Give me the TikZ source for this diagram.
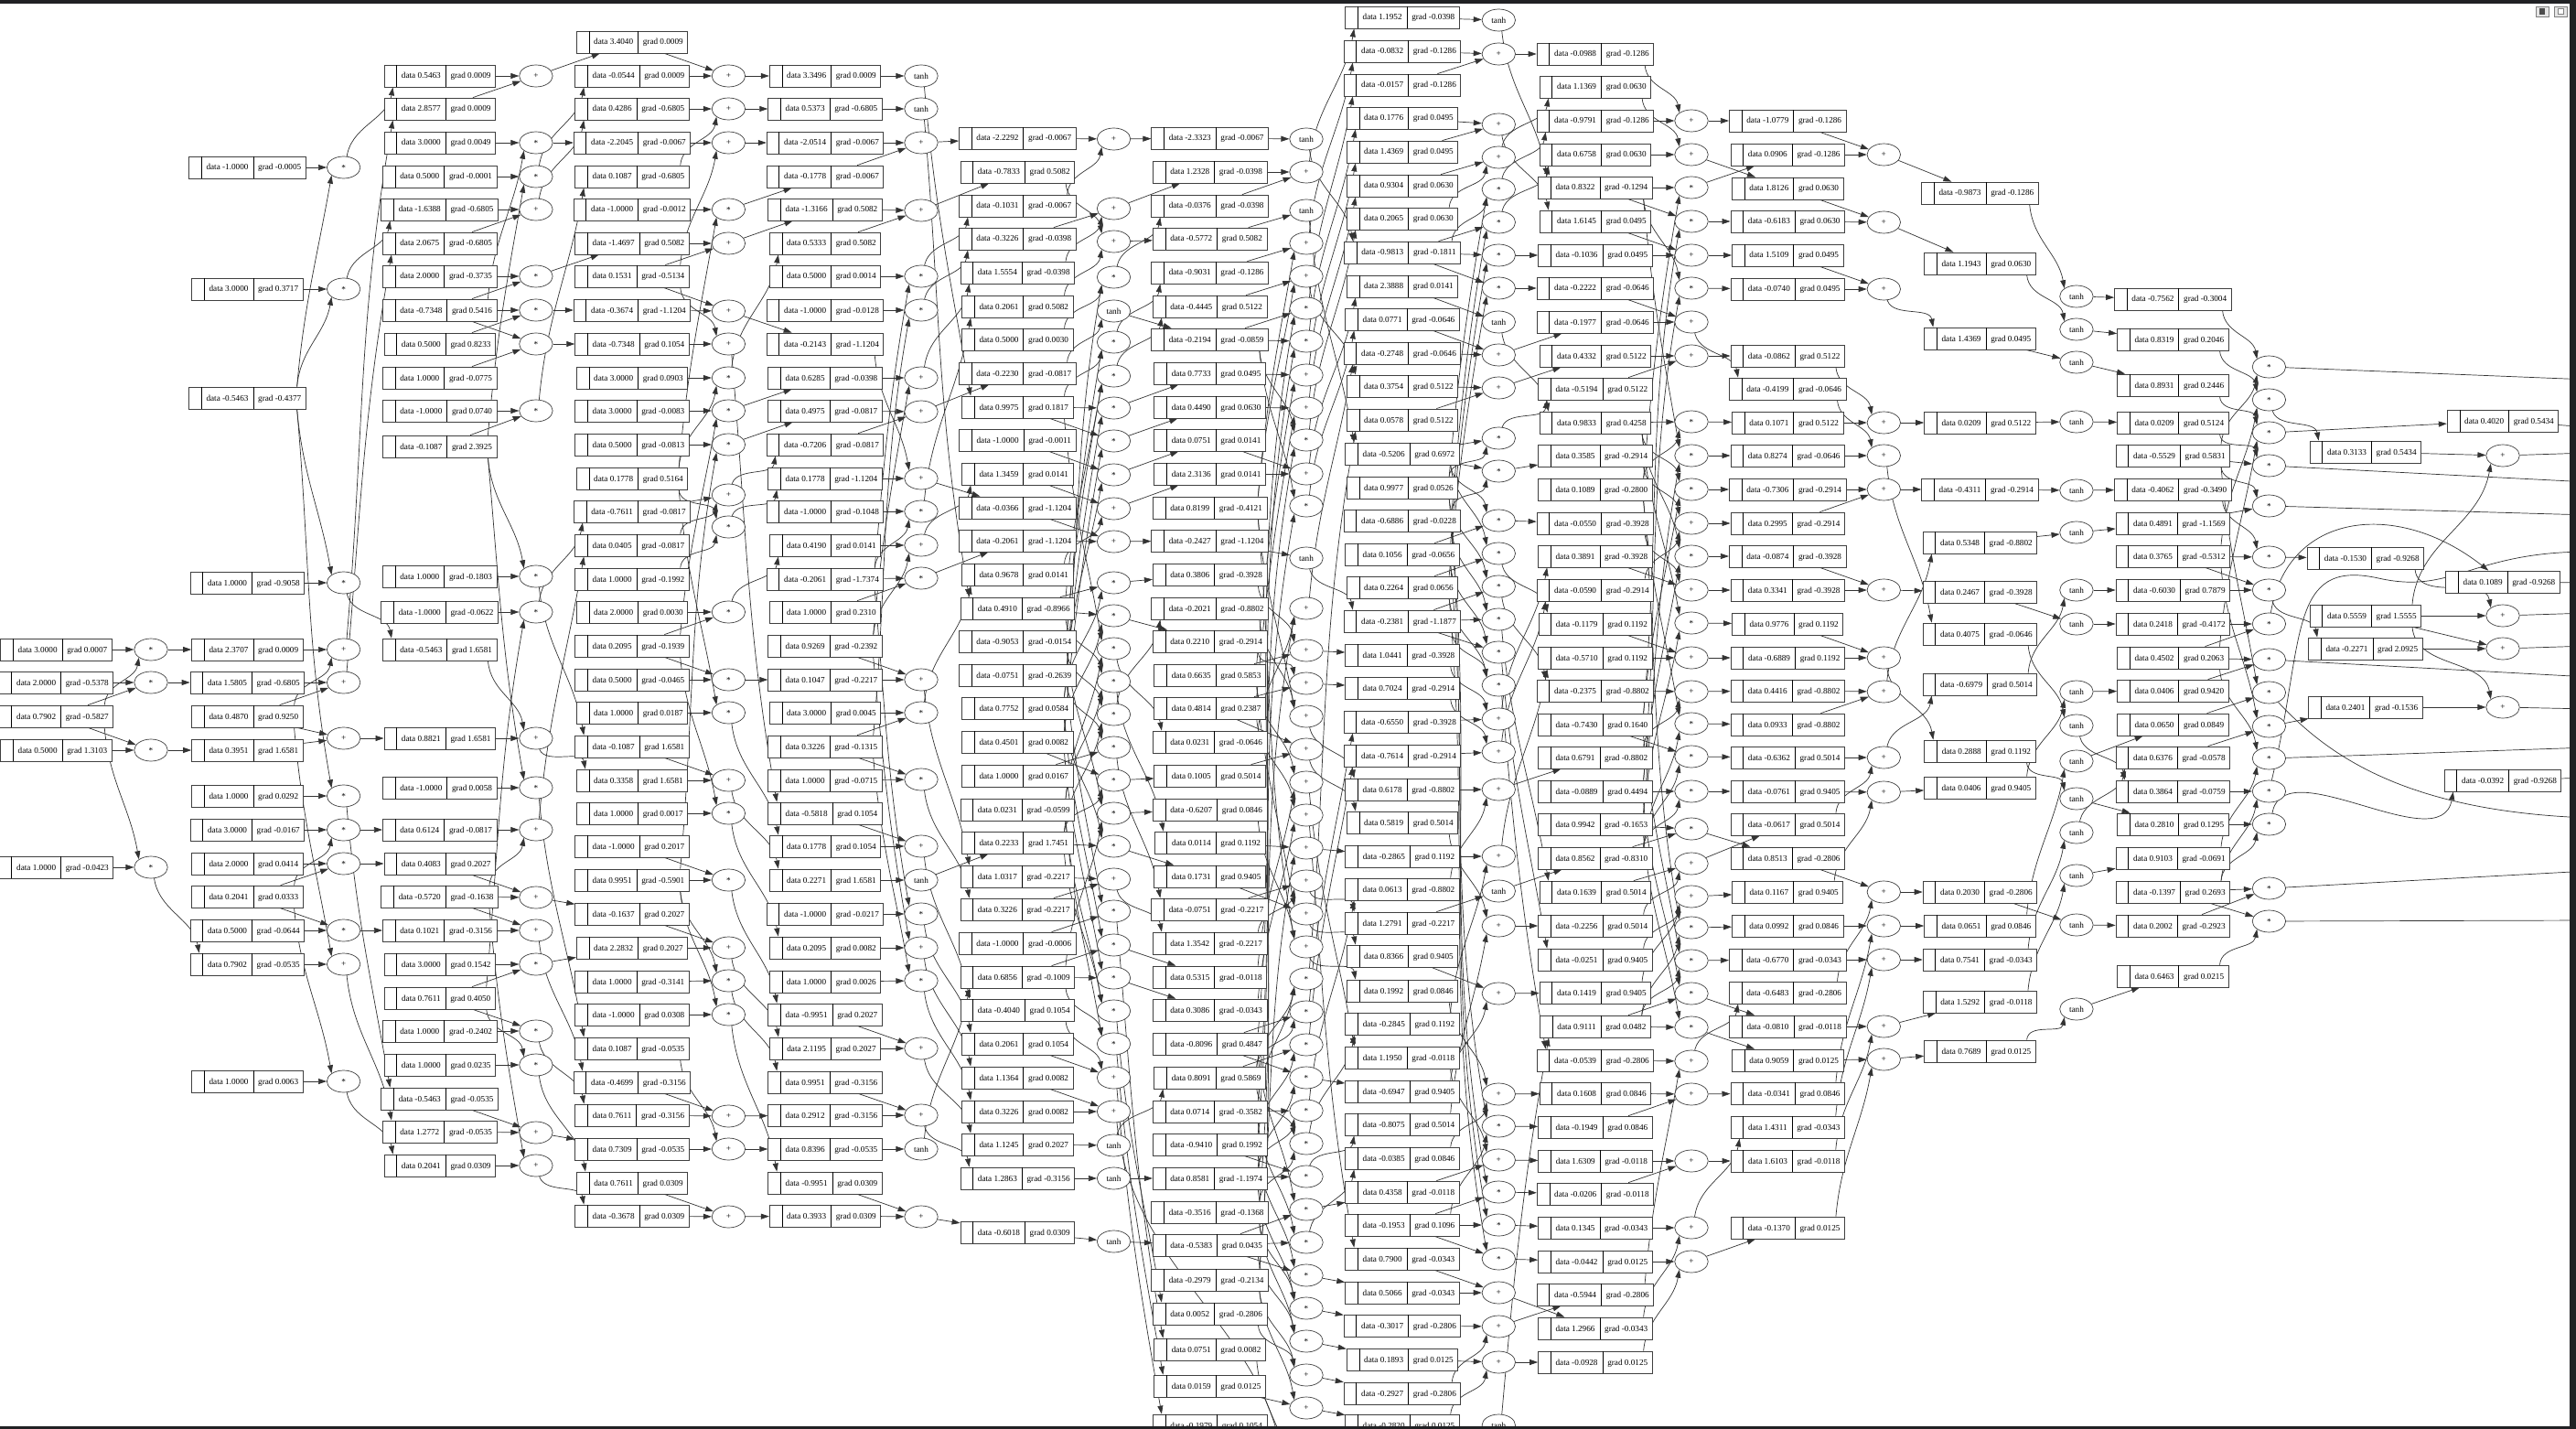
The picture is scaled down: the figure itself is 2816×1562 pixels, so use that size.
\documentclass[tikz,border=0pt]{standalone}
\usepackage{fontspec}
\setmainfont{Liberation Serif}
\usetikzlibrary{arrows.meta,shapes.geometric,backgrounds}

\definecolor{barcolor}{HTML}{202124}

\newcommand{\reclabel}[2]{\hbox{\kern13.3pt\vrule height 15pt depth 9pt width .7pt\kern5pt data #1\kern5pt\vrule height 15pt depth 9pt width .7pt\kern5pt grad #2\kern5pt}}

\newdimen\connya
\newdimen\connyb
\newdimen\conndy
\newcommand{\connect}[3][0pt]{%
  \pgfextracty{\connya}{\pgfpointanchor{#2}{center}}%
  \pgfextracty{\connyb}{\pgfpointanchor{#3}{center}}%
  \conndy=\dimexpr\connyb-\connya\relax
  \ifdim\conndy>45pt
    \draw[wire] ([xshift=-10pt]#2.north east) to[out=85,in=-100] ([xshift=#1]#3.south west);
  \else\ifdim\conndy<-45pt
    \draw[wire] ([xshift=-10pt]#2.south east) to[out=-85,in=100] ([xshift=#1]#3.north west);
  \else
    \draw[wire] (#2) -- (#3);
  \fi\fi}

\begin{document}
\begin{tikzpicture}[x=1pt,y=-1pt]
\tikzstyle{every node}=[font=\fontsize{9.2}{10}\selectfont]
\tikzstyle{recbox}=[draw=black!75,fill=white,line width=.8pt,inner sep=0pt]
\tikzstyle{opbox}=[draw=black!75,fill=white,line width=.7pt,shape=ellipse,inner sep=0pt,minimum width=36.5pt,minimum height=24pt]
\tikzstyle{wire}=[line width=.7pt,black!80,-{Triangle[length=9pt,width=6pt]}]
\useasboundingbox (0,0) rectangle (2816,1562);

%values, one column at a time
\foreach \yy/\dt/\gr in {710/3.0000/0.0007,746/2.0000/-0.5378,783/0.7902/-0.5827,820/0.5000/1.3103,948/1.0000/-0.0423}
  {\node[recbox] (A\yy) at (61.5,\yy) {\reclabel{\dt}{\gr}};}
\foreach \yy/\dt/\gr in {183/-1.0000/-0.0005,316/3.0000/0.3717,435/-0.5463/-0.4377,637/1.0000/-0.9058,710/2.3707/0.0009,746/1.5805/-0.6805,783/0.4870/0.9250,820/0.3951/1.6581,870/1.0000/0.0292,907/3.0000/-0.0167,944/2.0000/0.0414,980/0.2041/0.0333,1017/0.5000/-0.0644,1054/0.7902/-0.0535,1182/1.0000/0.0063}
  {\node[recbox] (C\yy) at (270.4,\yy) {\reclabel{\dt}{\gr}};}
\foreach \yy/\dt/\gr in {83/0.5463/0.0009,119/2.8577/0.0009,156/3.0000/0.0049,193/0.5000/-0.0001,229/-1.6388/-0.6805,266/2.0675/-0.6805,302/2.0000/-0.3735,339/-0.7348/0.5416,376/0.5000/0.8233,413/1.0000/-0.0775,449/-1.0000/0.0740,488/-0.1087/2.3925,630/1.0000/-0.1803,669/-1.0000/-0.0622,710/-0.5463/1.6581,807/0.8821/1.6581,861/-1.0000/0.0058,907/0.6124/-0.0817,944/0.4083/0.2027,980/-0.5720/-0.1638,1017/0.1021/-0.3156,1054/3.0000/0.1542,1091/0.7611/0.4050,1127/1.0000/-0.2402,1164/1.0000/0.0235,1201/-0.5463/-0.0535,1237/1.2772/-0.0535,1274/0.2041/0.0309}
  {\node[recbox] (E\yy) at (480.7,\yy) {\reclabel{\dt}{\gr}};}
\foreach \yy/\dt/\gr in {46/3.4040/0.0009,83/-0.0544/0.0009,119/0.4286/-0.6805,156/-2.2045/-0.0067,193/0.1087/-0.6805,229/-1.0000/-0.0012,266/-1.4697/0.5082,302/0.1531/-0.5134,339/-0.3674/-1.1204,376/-0.7348/0.1054,413/3.0000/0.0903,449/3.0000/-0.0083,486/0.5000/-0.0813,523/0.1778/0.5164,559/-0.7611/-0.0817,596/0.0405/-0.0817,633/1.0000/-0.1992,669/2.0000/0.0030,706/0.2095/-0.1939,743/0.5000/-0.0465,779/1.0000/0.0187,816/-0.1087/1.6581,853/0.3358/1.6581,889/1.0000/0.0017,925/-1.0000/0.2017,962/0.9951/-0.5901,999/-0.1637/0.2027,1036/2.2832/0.2027,1073/1.0000/-0.3141,1109/-1.0000/0.0308,1146/0.1087/-0.0535,1183/-0.4699/-0.3156,1219/0.7611/-0.3156,1256/0.7309/-0.0535,1293/0.7611/0.0309,1329/-0.3678/0.0309}
  {\node[recbox] (G\yy) at (691,\yy) {\reclabel{\dt}{\gr}};}
\foreach \yy/\dt/\gr in {83/3.3496/0.0009,119/0.5373/-0.6805,156/-2.0514/-0.0067,193/-0.1778/-0.0067,229/-1.3166/0.5082,266/0.5333/0.5082,302/0.5000/0.0014,339/-1.0000/-0.0128,376/-0.2143/-1.1204,413/0.6285/-0.0398,449/0.4975/-0.0817,486/-0.7206/-0.0817,523/0.1778/-1.1204,559/-1.0000/-0.1048,596/0.4190/0.0141,633/-0.2061/-1.7374,669/1.0000/0.2310,706/0.9269/-0.2392,743/0.1047/-0.2217,779/3.0000/0.0045,816/0.3226/-0.1315,853/1.0000/-0.0715,889/-0.5818/0.1054,925/0.1778/0.1054,962/0.2271/1.6581,999/-1.0000/-0.0217,1036/0.2095/0.0082,1073/1.0000/0.0026,1109/-0.9951/0.2027,1146/2.1195/0.2027,1183/0.9951/-0.3156,1219/0.2912/-0.3156,1256/0.8396/-0.0535,1293/-0.9951/0.0309,1329/0.3933/0.0309}
  {\node[recbox] (I\yy) at (902,\yy) {\reclabel{\dt}{\gr}};}
\foreach \yy/\dt/\gr in {151/-2.2292/-0.0067,188/-0.7833/0.5082,225/-0.1031/-0.0067,261/-0.3226/-0.0398,298/1.5554/-0.0398,335/0.2061/0.5082,371/0.5000/0.0030,408/-0.2230/-0.0817,445/0.9975/0.1817,481/-1.0000/-0.0011,518/1.3459/0.0141,555/-0.0366/-1.1204,591/-0.2061/-1.1204,628/0.9678/0.0141,665/0.4910/-0.8966,701/-0.9053/-0.0154,738/-0.0751/-0.2639,774/0.7752/0.0584,811/0.4501/0.0082,848/1.0000/0.0167,885/0.0231/-0.0599,921/0.2233/1.7451,958/1.0317/-0.2217,994/0.3226/-0.2217,1031/-1.0000/-0.0006,1068/0.6856/-0.1009,1104/-0.4040/0.1054,1141/0.2061/0.1054,1178/1.1364/0.0082,1215/0.3226/0.0082,1251/1.1245/0.2027,1288/1.2863/-0.3156,1347/-0.6018/0.0309}
  {\node[recbox] (K\yy) at (1112.3,\yy) {\reclabel{\dt}{\gr}};}
\foreach \yy/\dt/\gr in {151/-2.3323/-0.0067,188/1.2328/-0.0398,225/-0.0376/-0.0398,261/-0.5772/0.5082,298/-0.9031/-0.1286,335/-0.4445/0.5122,371/-0.2194/-0.0859,408/0.7733/0.0495,445/0.4490/0.0630,481/0.0751/0.0141,518/2.3136/0.0141,555/0.8199/-0.4121,591/-0.2427/-1.1204,628/0.3806/-0.3928,665/-0.2021/-0.8802,701/0.2210/-0.2914,738/0.6635/0.5853,774/0.4814/0.2387,811/0.0231/-0.0646,848/0.1005/0.5014,885/-0.6207/0.0846,921/0.0114/0.1192,958/0.1731/0.9405,994/-0.0751/-0.2217,1031/1.3542/-0.2217,1068/0.5315/-0.0118,1104/0.3086/-0.0343,1141/-0.8096/0.4847,1178/0.8091/0.5869,1215/0.0714/-0.3582,1251/-0.9410/0.1992,1288/0.8581/-1.1974,1325/-0.3516/-0.1368,1361/-0.5383/0.0435,1399/-0.2979/-0.2134,1436/0.0052/-0.2806,1475/0.0751/0.0082,1515/0.0159/0.0125,1558/-0.1979/0.1054}
  {\node[recbox] (M\yy) at (1322.6,\yy) {\reclabel{\dt}{\gr}};}
\foreach \yy/\dt/\gr in {19/1.1952/-0.0398,56/-0.0832/-0.1286,93/-0.0157/-0.1286,129/0.1776/0.0495,166/1.4369/0.0495,203/0.9304/0.0630,239/0.2065/0.0630,276/-0.9813/-0.1811,313/2.3888/0.0141,349/0.0771/-0.0646,386/-0.2748/-0.0646,422/0.3754/0.5122,459/0.0578/0.5122,496/-0.5206/0.6972,533/0.9977/0.0526,569/-0.6886/-0.0228,606/0.1056/-0.0656,642/0.2264/0.0656,679/-0.2381/-1.1877,716/1.0441/-0.3928,752/0.7024/-0.2914,789/-0.6550/-0.3928,826/-0.7614/-0.2914,863/0.6178/-0.8802,899/0.5819/0.5014,936/-0.2865/0.1192,972/0.0613/-0.8802,1009/1.2791/-0.2217,1045/0.8366/0.9405,1083/0.1992/0.0846,1119/-0.2845/0.1192,1156/1.1950/-0.0118,1193/-0.6947/0.9405,1229/-0.8075/0.5014,1266/-0.0385/0.0846,1303/0.4358/-0.0118,1339/-0.1953/0.1096,1376/0.7900/-0.0343,1413/0.5066/-0.0343,1449/-0.3017/-0.2806,1486/0.1893/0.0125,1523/-0.2927/-0.2806,1558/-0.2820/0.0125}
  {\node[recbox] (O\yy) at (1533,\yy) {\reclabel{\dt}{\gr}};}
\foreach \yy/\dt/\gr in {59/-0.0988/-0.1286,95/1.1369/0.0630,132/-0.9791/-0.1286,169/0.6758/0.0630,205/0.8322/-0.1294,242/1.6145/0.0495,279/-0.1036/0.0495,315/-0.2222/-0.0646,352/-0.1977/-0.0646,389/0.4332/0.5122,425/-0.5194/0.5122,462/0.9833/0.4258,498/0.3585/-0.2914,535/0.1089/-0.2800,572/-0.0550/-0.3928,608/0.3891/-0.3928,645/-0.0590/-0.2914,682/-0.1179/0.1192,719/-0.5710/0.1192,755/-0.2375/-0.8802,792/-0.7430/0.1640,828/0.6791/-0.8802,865/-0.0889/0.4494,901/0.9942/-0.1653,938/0.8562/-0.8310,975/0.1639/0.5014,1012/-0.2256/0.5014,1049/-0.0251/0.9405,1085/0.1419/0.9405,1122/0.9111/0.0482,1159/-0.0539/-0.2806,1195/0.1608/0.0846,1232/-0.1949/0.0846,1269/1.6309/-0.0118,1305/-0.0206/-0.0118,1342/0.1345/-0.0343,1379/-0.0442/0.0125,1415/-0.5944/-0.2806,1452/1.2966/-0.0343,1489/-0.0928/0.0125}
  {\node[recbox] (Q\yy) at (1743.9,\yy) {\reclabel{\dt}{\gr}};}
\foreach \yy/\dt/\gr in {132/-1.0779/-0.1286,169/0.0906/-0.1286,206/1.8126/0.0630,242/-0.6183/0.0630,279/1.5109/0.0495,316/-0.0740/0.0495,389/-0.0862/0.5122,425/-0.4199/-0.0646,462/0.1071/0.5122,498/0.8274/-0.0646,535/-0.7306/-0.2914,572/0.2995/-0.2914,608/-0.0874/-0.3928,645/0.3341/-0.3928,682/0.9776/0.1192,719/-0.6889/0.1192,755/0.4416/-0.8802,792/0.0933/-0.8802,828/-0.6362/0.5014,865/-0.0761/0.9405,901/-0.0617/0.5014,938/0.8513/-0.2806,975/0.1167/0.9405,1012/0.0992/0.0846,1049/-0.6770/-0.0343,1085/-0.6483/-0.2806,1122/-0.0810/-0.0118,1159/0.9059/0.0125,1195/-0.0341/0.0846,1232/1.4311/-0.0343,1269/1.6103/-0.0118,1342/-0.1370/0.0125}
  {\node[recbox] (S\yy) at (1954.2,\yy) {\reclabel{\dt}{\gr}};}
\foreach \yy/\dt/\gr in {211/-0.9873/-0.1286,288/1.1943/0.0630,370/1.4369/0.0495,462/0.0209/0.5122,535/-0.4311/-0.2914,593/0.5348/-0.8802,647/0.2467/-0.3928,693/0.4075/-0.0646,748/-0.6979/0.5014,821/0.2888/0.1192,861/0.0406/0.9405,975/0.2030/-0.2806,1012/0.0651/0.0846,1049/0.7541/-0.0343,1095/1.5292/-0.0118,1149/0.7689/0.0125}
  {\node[recbox] (U\yy) at (2164.4,\yy) {\reclabel{\dt}{\gr}};}
\foreach \yy/\dt/\gr in {327/-0.7562/-0.3004,371/0.8319/0.2046,421/0.8931/0.2446,462/0.0209/0.5124,498/-0.5529/0.5831,535/-0.4062/-0.3490,572/0.4891/-1.1569,608/0.3765/-0.5312,645/-0.6030/0.7879,682/0.2418/-0.4172,719/0.4502/0.2063,755/0.0406/0.9420,792/0.0650/0.0849,828/0.6376/-0.0578,865/0.3864/-0.0759,901/0.2810/0.1295,938/0.9103/-0.0691,975/-0.1397/0.2693,1012/0.2002/-0.2923,1067/0.6463/0.0215}
  {\node[recbox] (W\yy) at (2375.3,\yy) {\reclabel{\dt}{\gr}};}
\foreach \yy/\dt/\gr in {494/0.3133/0.5434,610/-0.1530/-0.9268,673/0.5559/1.5555,709/-0.2271/2.0925,773/0.2401/-0.1536}
  {\node[recbox] (Y\yy) at (2585.8,\yy) {\reclabel{\dt}{\gr}};}
\foreach \yy/\dt/\gr in {460/0.4020/0.5434,636/0.1089/-0.9268,853/-0.0392/-0.9268}
  {\node[recbox] (Z\yy) at (2736,\yy) {\reclabel{\dt}{\gr}};}

%operations
\foreach \yy/\op in {710/*,746/*,820/*,948/*}
  {\node[opbox] (B\yy) at (165,\yy) {\op};}
\foreach \yy/\op in {183/*,316/*,637/*,710/+,746/+,807/+,870/*,907/*,944/*,1017/*,1054/+,1182/*}
  {\node[opbox] (D\yy) at (375.6,\yy) {\op};}
\foreach \yy/\op in {83/+,156/*,193/*,229/+,302/*,339/*,376/*,449/*,630/*,669/*,807/+,861/*,907/+,981/+,1017/+,1054/*,1127/*,1164/*,1238/+,1274/+}
  {\node[opbox] (F\yy) at (585.9,\yy) {\op};}
\foreach \yy/\op in {83/+,119/+,156/+,229/*,266/+,340/+,376/+,413/*,449/*,486/*,541/+,576/*,669/*,743/*,779/*,853/+,889/*,962/*,1036/+,1072/*,1109/*,1220/+,1256/+,1330/+}
  {\node[opbox] (H\yy) at (796.4,\yy) {\op};}
\foreach \yy/\op in {83/tanh,119/tanh,156/+,230/+,302/*,339/*,413/+,450/+,523/+,559/*,596/+,632/*,743/+,779/*,852/*,925/+,962/tanh,999/*,1036/+,1072/*,1146/+,1219/+,1256/tanh,1330/+}
  {\node[opbox] (J\yy) at (1007,\yy) {\op};}
\foreach \yy/\op in {152/+,228/+,264/+,303/*,340/tanh,374/*,411/*,446/*,482/*,519/*,556/+,592/+,637/*,673/*,709/*,745/*,781/*,817/*,853/*,889/*,925/*,961/+,996/*,1033/*,1069/*,1105/*,1141/*,1178/+,1215/+,1252/tanh,1288/tanh,1357/tanh}
  {\node[opbox] (L\yy) at (1217.5,\yy) {\op};}
\foreach \yy/\op in {152/tanh,188/+,230/tanh,266/+,302/+,337/*,373/*,410/+,446/+,481/*,518/+,553/*,610/tanh,665/+,711/+,747/+,783/+,819/+,855/+,891/+,927/+,963/+,999/+,1035/+,1070/*,1106/*,1142/*,1178/*,1214/*,1250/*,1286/*,1322/*,1358/*,1394/*,1430/*,1466/*,1503/+,1539/+}
  {\node[opbox] (N\yy) at (1428,\yy) {\op};}
\foreach \yy/\op in {22/tanh,59/+,136/+,172/+,207/*,243/*,279/*,315/*,352/tanh,388/+,424/+,479/*,515/*,569/*,605/*,641/*,677/*,713/*,749/*,786/+,822/+,863/+,936/+,974/tanh,1012/+,1086/+,1196/+,1231/*,1268/+,1303/*,1339/*,1376/*,1413/+,1450/+,1489/+,1558/tanh}
  {\node[opbox] (P\yy) at (1638.3,\yy) {\op};}
\foreach \yy/\op in {132/+,169/+,205/*,242/*,279/+,315/*,352/+,389/+,461/*,498/*,535/*,572/+,608/*,645/+,681/*,719/+,756/+,791/*,827/*,865/*,906/*,944/+,980/+,1014/*,1050/*,1086/*,1123/*,1160/+,1196/+,1269/+,1342/+,1379/+}
  {\node[opbox] (R\yy) at (1849,\yy) {\op};}
\foreach \yy in {169,243,316,462,498,535,645,719,756,828,866,975,1012,1049,1122,1158}
  {\node[opbox] (T\yy) at (2059.3,\yy) {+};}
\foreach \yy in {324,360,396,461,536,582,645,682,756,793,832,873,910,957,1011,1103}
  {\node[opbox] (V\yy) at (2269.9,\yy) {tanh};}
\foreach \yy in {401,437,473,509,553,609,645,682,721,757,794,829,865,901,971,1007}
  {\node[opbox] (X\yy) at (2480.4,\yy) {*};}
\foreach \yy in {498,673,709,773}
  {\node[opbox] (Zp\yy) at (2736,\yy) {+};}

%loose ends that leave the picture
\foreach \nm/\yy in {offa/415,offb/527,offc/563,offd/740,offe/817,offf/952,offg/1006,offh/894,offi/603,offj/467,offk/637,offl/850,offm/495,offn/670,offo/706,offp/775}
  {\coordinate (\nm) at (2830,\yy);}
\coordinate (bota) at (1405,1620);
\coordinate (botb) at (1412,1620);
\coordinate (botc) at (1420,1620);

\begin{scope}[on background layer]
%values into operations
\foreach \from/\to in {A710/B710,A783/B710,A746/B746,A783/B746,A820/B820,A783/B820,A948/B948,A783/B948,
  C183/D183,C435/D183,C316/D316,C435/D316,C637/D637,C435/D637,C710/D710,C783/D710,C746/D746,C783/D746,C820/D807,C783/D807,C870/D870,C435/D870,C907/D907,C980/D907,C944/D944,C980/D944,C1017/D1017,C980/D1017,C1054/D1054,C783/D1054,C1182/D1182,C980/D1182,
  E83/F83,E119/F83,E156/F156,E339/F156,E193/F193,E488/F193,E229/F229,E266/F229,E302/F302,E339/F302,E339/F339,E376/F339,E413/F376,E339/F376,E449/F449,E488/F449,E630/F630,E488/F630,E669/F669,E1091/F669,E807/F807,E710/F807,E861/F861,E488/F861,E907/F907,E980/F907,E944/F981,E980/F981,E1017/F1017,E980/F1017,E1054/F1054,E1091/F1054,E1127/F1127,E1091/F1127,E1164/F1164,E1091/F1164,E1201/F1238,E1237/F1238,E1274/F1274,E980/F1274,
  G46/H83,G83/H83,G119/H119,G193/H119,G156/H156,G302/H156,G229/H229,G523/H229,G266/H266,G302/H266,G339/H340,G302/H340,G376/H376,G302/H376,G413/H413,G523/H413,G449/H449,G706/H449,G486/H486,G962/H486,G559/H541,G596/H541,G523/H576,G633/H576,G669/H669,G706/H669,G743/H743,G706/H743,G779/H779,G523/H779,G853/H853,G816/H853,G889/H889,G706/H889,G962/H962,G925/H962,G999/H1036,G1036/H1036,G1073/H1072,G962/H1072,G1109/H1109,G962/H1109,G1183/H1220,G1219/H1220,G1256/H1256,G1146/H1256,G1329/H1330,G1293/H1330,
  I83/J83,I119/J119,I156/J156,I193/J156,I229/J230,I266/J230,I302/J302,I633/J302,I339/J339,I816/J339,I413/J413,I706/J413,I449/J450,I486/J450,I523/J523,I376/J523,I559/J559,I633/J559,I596/J596,I706/J596,I669/J632,I633/J632,I743/J743,I706/J743,I779/J779,I816/J779,I853/J852,I816/J852,I925/J925,I889/J925,I962/J962,I999/J999,I633/J999,I1036/J1036,I706/J1036,I1073/J1072,I816/J1072,I1146/J1146,I1109/J1146,I1219/J1219,I1183/J1219,I1256/J1256,I1329/J1330,I1293/J1330,
  K151/L152,K225/L152,K261/L228,K298/L228,K188/L264,K335/L264,K371/L303,K738/L303,K408/L340,K445/L374,K701/L374,K665/L411,K701/L411,K445/L446,K774/L446,K445/L482,K811/L482,K481/L519,K738/L519,K518/L556,K628/L556,K555/L592,K591/L592,K665/L637,K774/L637,K665/L673,K811/L673,K445/L709,K885/L709,K665/L745,K885/L745,K921/L781,K701/L781,K848/L817,K738/L817,K921/L853,K811/L853,K1068/L889,K701/L889,K921/L925,K774/L925,K958/L961,K994/L961,K1031/L996,K738/L996,K1068/L1033,K774/L1033,K1068/L1069,K811/L1069,K921/L1105,K885/L1105,K1068/L1141,K885/L1141,K1104/L1178,K1141/L1178,K1178/L1215,K1215/L1215,K1251/L1252,K1288/L1288,K1347/L1357,
  M151/N152,M188/N188,M225/N188,M261/N230,M298/N266,M555/N266,M335/N302,M555/N302,M371/N337,M1215/N337,M371/N373,M1141/N373,M408/N410,M738/N410,M445/N446,M774/N446,M371/N481,M1251/N481,M481/N518,M518/N518,M371/N553,M1325/N553,M591/N610,M811/N665,M1399/N665,M628/N711,M738/N711,M701/N747,M774/N747,M665/N783,M555/N783,M848/N819,M774/N819,M1068/N855,M738/N855,M1104/N891,M774/N891,M921/N927,M1399/N927,M994/N963,M1031/N963,M958/N999,M738/N999,M885/N1035,M555/N1035,M1178/N1070,M1215/N1070,M1178/N1106,M1141/N1106,M1178/N1142,M1251/N1142,M1288/N1178,M1141/N1178,M1215/N1214,M1288/N1214,M1178/N1250,M1325/N1250,M1288/N1286,M1251/N1286,M1361/N1322,M1141/N1322,M1361/N1358,M1215/N1358,M1361/N1394,M1251/N1394,M1288/N1430,M1325/N1430,M1361/N1466,M1325/N1466,M1436/N1503,M1399/N1503,M1515/N1539,M1399/N1539,
  O19/P22,O56/P59,O93/P59,O129/P136,O166/P136,O203/P172,O239/P172,O276/P207,O533/P207,O276/P243,O569/P243,O276/P279,O606/P279,O276/P315,O642/P315,O313/P352,O349/P388,O386/P388,O422/P424,O459/P424,O496/P479,O533/P479,O496/P515,O569/P515,O496/P569,O606/P569,O496/P605,O642/P605,O679/P641,O533/P641,O679/P677,O569/P677,O679/P713,O606/P713,O679/P749,O642/P749,O789/P786,O716/P786,O826/P822,O752/P822,O863/P863,O972/P863,O936/P936,O1119/P936,O1009/P974,O899/P1012,O1229/P1012,O1045/P1086,O1193/P1086,O1083/P1196,O1266/P1196,O1339/P1231,O533/P1231,O1156/P1268,O1303/P1268,O1339/P1303,O606/P1303,O1339/P1339,O569/P1339,O1339/P1376,O642/P1376,O1376/P1413,O1413/P1413,O1449/P1450,O1523/P1450,O1486/P1489,O1558/P1489,
  Q59/R132,Q132/R132,Q95/R169,Q169/R169,Q205/R205,Q535/R205,Q205/R242,Q792/R242,Q242/R279,Q279/R279,Q205/R315,Q865/R315,Q315/R352,Q352/R352,Q389/R389,Q425/R389,Q462/R461,Q535/R461,Q205/R498,Q901/R498,Q462/R535,Q792/R535,Q498/R572,Q645/R572,Q462/R608,Q865/R608,Q572/R645,Q608/R645,Q462/R681,Q901/R681,Q682/R719,Q719/R719,Q755/R756,Q828/R756,Q938/R791,Q535/R791,Q938/R827,Q792/R827,Q938/R865,Q865/R865,Q938/R906,Q901/R906,Q975/R944,Q1012/R944,Q1049/R980,Q1085/R980,Q1122/R1014,Q535/R1014,Q1122/R1050,Q792/R1050,Q1122/R1086,Q865/R1086,Q1122/R1123,Q901/R1123,Q1159/R1160,Q1415/R1160,Q1195/R1196,Q1232/R1196,Q1269/R1269,Q1305/R1269,Q1342/R1342,Q1452/R1342,Q1379/R1379,Q1489/R1379,
  S132/T169,S169/T169,S206/T243,S242/T243,S279/T316,S316/T316,S389/T462,S462/T462,S425/T498,S498/T498,S535/T535,S572/T535,S608/T645,S645/T645,S682/T719,S719/T719,S755/T756,S792/T756,S828/T828,S901/T828,S865/T866,S975/T866,S938/T975,S1085/T975,S1012/T1012,S1195/T1012,S1049/T1049,S1232/T1049,S1122/T1122,S1269/T1122,S1159/T1158,S1342/T1158,
  U211/V324,U288/V360,U370/V396,U462/V461,U535/V536,U593/V582,U647/V682,U748/V645,U693/V793,U861/V756,U821/V873,U1049/V910,U1012/V832,U1095/V957,U975/V1011,U1149/V1103,
  W327/X401,W498/X401,W371/X437,W608/X437,W421/X473,W719/X473,W462/X509,W498/X509,W572/X553,W498/X553,W535/X609,W608/X609,W645/X645,W608/X645,W682/X682,W719/X682,W755/X721,W719/X721,W792/X757,W498/X757,W828/X794,W608/X794,W938/X829,W719/X829,W865/X865,W975/X865,W901/X901,W975/X901,W1012/X971,W975/X971,W1067/X1007,W975/X1007,
  Y494/Zp498,Y610/Zp673,Y673/Zp673,Y709/Zp709,Y773/Zp773,Y673/Zp709,Y673/Zp773,Y673/Zp498}
  {\connect{\from}{\to}}

%operations into their results
\foreach \from/\to in {B710/C710,B746/C746,B820/C820,B948/C1054,
  D183/E83,D316/E229,D637/E710,D710/E119,D746/E266,D807/E807,D870/E1201,D907/E907,D944/E944,D1017/E1017,D1054/E1237,D1182/E1274,
  F83/G46,F156/G156,F193/G83,F229/G119,F302/G266,F339/G339,F376/G376,F449/G193,F630/G816,F669/G559,F807/G853,F861/G1146,F907/G596,F981/G999,F1017/G1183,F1054/G1036,F1127/G1219,F1164/G1293,F1238/G1256,F1274/G1329,
  H83/I83,H119/I119,H156/I156,H229/I193,H266/I229,H340/I376,H376/I889,H413/I266,H449/I413,H486/I449,H541/I486,H576/I523,H669/I596,H743/I743,H779/I925,H853/I962,H889/I1036,H962/I1109,H1036/I1146,H1072/I1183,H1109/I1293,H1220/I1219,H1256/I1256,H1330/I1329,
  J83/K445,J119/K665,J156/K151,J230/K188,J302/K225,J339/K261,J413/K298,J450/K408,J523/K555,J559/K335,J596/K518,J632/K591,J743/K958,J779/K628,J852/K994,J925/K1104,J962/K921,J999/K1141,J1036/K1178,J1072/K1215,J1146/K1251,J1219/K1288,J1256/K1068,J1330/K1347,
  L152/M151,L228/M188,L264/M261,L303/M225,L340/M371,L374/M298,L411/M335,L446/M408,L482/M445,L519/M481,L556/M518,L592/M591,L637/M628,L673/M701,L709/M811,L745/M921,L781/M665,L817/M994,L853/M848,L889/M885,L925/M958,L961/M1031,L996/M1475,L1033/M1068,L1069/M1104,L1105/M1436,L1141/M1515,L1178/M1558,L1252/M1178,L1288/M1288,L1357/M1361,
  N152/O276,N188/O19,N230/O496,N266/O56,N302/O422,N337/O93,N373/O129,N410/O166,N446/O203,N481/O239,N518/O313,N553/O349,N610/O679,N665/O386,N711/O716,N747/O752,N783/O863,N819/O899,N855/O1156,N891/O1376,N927/O936,N963/O1009,N999/O1045,N1035/O1083,N1070/O459,N1106/O789,N1142/O826,N1178/O1193,N1214/O972,N1250/O1119,N1286/O1229,N1322/O1303,N1358/O1266,N1394/O1413,N1430/O1449,N1466/O1486,N1503/O1523,N1539/O1558,
  P22/Q205,P59/Q59,P136/Q242,P172/Q95,P207/Q132,P243/Q169,P279/Q279,P315/Q315,P352/Q462,P388/Q352,P424/Q389,P479/Q425,P515/Q498,P569/Q572,P605/Q682,P641/Q755,P677/Q975,P713/Q1049,P749/Q1159,P786/Q608,P822/Q645,P863/Q828,P936/Q719,P974/Q938,P1012/Q1012,P1086/Q1085,P1196/Q1195,P1231/Q1232,P1268/Q1269,P1303/Q1305,P1339/Q1342,P1376/Q1379,P1413/Q1452,P1450/Q1415,P1489/Q1489,P1558/Q1122,
  R132/S132,R169/S206,R205/S169,R242/S242,R279/S279,R315/S316,R352/S425,R389/S389,R461/S462,R498/S498,R535/S535,R572/S572,R608/S608,R645/S645,R681/S682,R719/S719,R756/S755,R791/S792,R827/S828,R865/S865,R906/S938,R944/S901,R980/S975,R1014/S1012,R1050/S1049,R1086/S1122,R1123/S1159,R1160/S1085,R1196/S1195,R1269/S1269,R1342/S1232,R1379/S1342,
  T169/U211,T243/U288,T316/U370,T462/U462,T498/U693,T535/U535,T645/U647,T719/U821,T756/U593,T828/U748,T866/U861,T975/U975,T1012/U1012,T1049/U1049,T1122/U1095,T1158/U1149,
  V324/W327,V360/W371,V396/W421,V461/W462,V536/W535,V582/W572,V682/W682,V645/W645,V793/W865,V756/W755,V873/W901,V910/W828,V832/W792,V957/W938,V1011/W1012,V1103/W1067,
  X437/Y494,X609/Y610,X645/Y709,X794/Y773,X473/Z460,X901/Z853}
  {\connect[10pt]{\from}{\to}}

%out of the picture
\foreach \from/\to in {X401/offa,X509/offb,X553/offc,X721/offd,X829/offe,X971/offf,X1007/offg,Z460/offj,Z636/offk,Z853/offl,Zp498/offm,Zp673/offn,Zp709/offo,Zp773/offp}
  {\draw[wire] (\from) -- (\to);}
\draw[wire] (X682) .. controls (2500,560) and (2620,545) .. (Z636);
\draw[wire] (X757) .. controls (2540,820) and (2620,885) .. (offh);
\draw[wire] (X865) .. controls (2520,700) and (2500,610) .. (2600,632) .. controls (2680,650) and (2700,605) .. (offi);
\draw[wire] ([xshift=-10pt]L1215.south east) to[out=-85,in=95] (bota);
\draw[wire] ([xshift=-10pt]M1475.south east) to[out=-85,in=95] (botb);
\draw[wire] ([xshift=-10pt]M1558.south east) to[out=-85,in=95] (botc);
\end{scope}

%window edges and its two buttons
\fill[barcolor] (0,0) rectangle (2816,4);
\fill[barcolor] (0,1559) rectangle (2816,1562);
\fill[barcolor] (2809,0) rectangle (2816,1562);
\draw[gray,fill=gray!20,line width=.8pt] (2772,7) rectangle (2786,18);
\fill[black!70] (2776,9) rectangle (2782,16);
\draw[gray,fill=gray!20,line width=.8pt] (2792,7) rectangle (2806,18);
\draw[black!50,fill=white,line width=.4pt] (2796,9) rectangle (2802,15);

\end{tikzpicture}
\end{document}
